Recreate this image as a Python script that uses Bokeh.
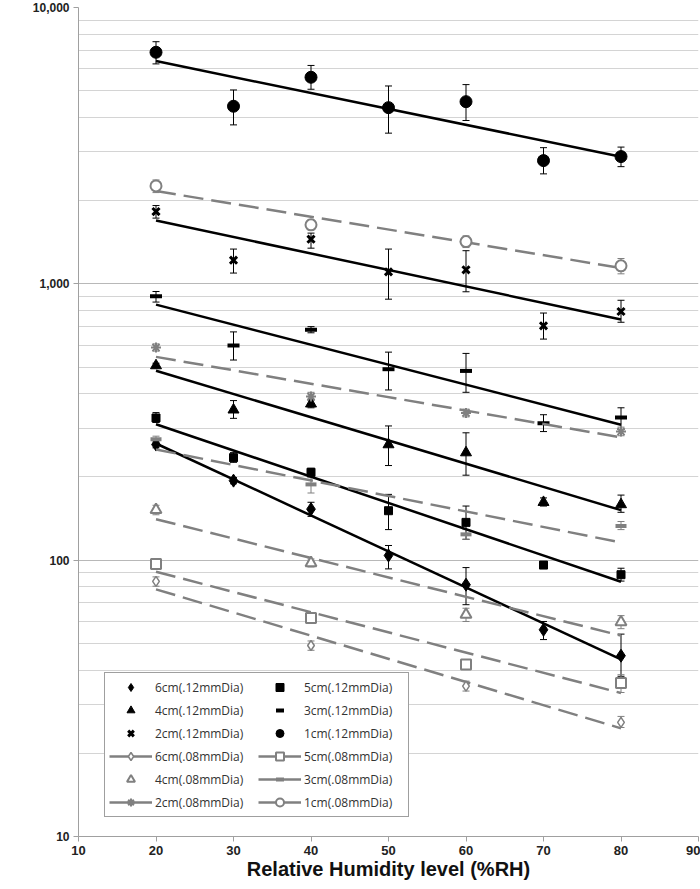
import numpy as np
from bokeh.plotting import figure
from bokeh.models import (ColumnDataSource, Whisker, TeeHead, Legend, LegendItem,
                          Label, FixedTicker, NumeralTickFormatter)
from bokeh.embed import file_html
from bokeh.resources import INLINE

# ---------------- data ----------------
x_12 = [20, 30, 40, 50, 60, 70, 80]
x_08 = [20, 40, 60, 80]
x_ticks = [10, 20, 30, 40, 50, 60, 70, 80, 90]
y_ticks = [10, 100, 1000, 10000]

cm6_12 = [262, 194, 153, 104, 81.5, 56, 45.1]
cm6_12_hi = [270, 199, 162, 113, 94, 60, 54]
cm6_12_lo = [255, 189, 144, 93, 69, 51.6, 38]

cm5_12 = [327, 235, 208, 151, 137, 96, 88.6]
cm5_12_hi = [342, 245, 215, 173, 157, 98, 93.5]
cm5_12_lo = [315, 226, 200, 129, 119, 94, 84]

cm4_12 = [506, 350, 368, 262, 245, 162, 159]
cm4_12_hi = [516, 378, 380, 306, 289, 168, 172]
cm4_12_lo = [497, 326, 356, 220, 203, 157, 149]

cm3_12 = [901, 598, 682, 491, 484, 313, 328]
cm3_12_hi = [938, 670, 700, 566, 560, 336, 356]
cm3_12_lo = [859, 530, 665, 413, 405, 292, 297]

cm2_12 = [1826, 1218, 1451, 1105, 1124, 705, 794]
cm2_12_hi = [1920, 1336, 1526, 1336, 1318, 784, 872]
cm2_12_lo = [1729, 1094, 1346, 880, 936, 631, 726]

cm1_12 = [6887, 4392, 5592, 4341, 4563, 2792, 2887]
cm1_12_hi = [7520, 5030, 6170, 5200, 5260, 3110, 3125]
cm1_12_lo = [6250, 3760, 5060, 3510, 3900, 2500, 2655]

cm6_08 = [83.8, 49.1, 35.0, 25.9]
cm6_08_hi = [87, 51, 36.5, 27.2]
cm6_08_lo = [80.5, 47.2, 33.6, 24.8]

cm5_08 = [96.9, 61.8, 41.9, 35.9]
cm5_08_hi = [100.5, 64, 43.6, 38.5]
cm5_08_lo = [93.4, 59.6, 40.2, 33.2]

cm4_08 = [152, 97.7, 63.5, 59.7]
cm4_08_hi = [158, 101, 67, 63]
cm4_08_lo = [146, 94.5, 60, 56.5]

cm3_08 = [274, 188, 124, 133]
cm3_08_hi = [281, 199, 129, 138]
cm3_08_lo = [267, 175, 119, 129]

cm2_08 = [588, 391, 341, 292]
cm2_08_hi = [606, 405, 352, 303]
cm2_08_lo = [571, 378, 330, 282]

cm1_08 = [2262, 1635, 1422, 1162]
cm1_08_hi = [2377, 1704, 1491, 1235]
cm1_08_lo = [2139, 1568, 1353, 1087]

# ---------------- figure ----------------
BLACK = "#000000"
GRAY = "#808080"
FONT = "Liberation Sans"

p = figure(width=700, height=889, y_axis_type="log",
           x_range=(10, 90), y_range=(10, 10000),
           output_backend="svg", toolbar_location=None,
           min_border_left=78, min_border_right=2,
           min_border_top=7, min_border_bottom=53)
p.outline_line_color = None
p.background_fill_color = "white"

minor = [m * d for d in (10, 100, 1000) for m in range(2, 10)]
p.yaxis.ticker = FixedTicker(ticks=y_ticks, minor_ticks=minor)
p.yaxis.formatter = NumeralTickFormatter(format="0,0")
p.xaxis.ticker = FixedTicker(ticks=x_ticks)

for ax in (p.xaxis[0], p.yaxis[0]):
    ax.axis_line_color = "#a0a0a0"
    ax.major_tick_line_color = "#a0a0a0"
    ax.major_tick_out = 5
    ax.major_tick_in = 0
    ax.minor_tick_line_color = None
    ax.major_label_text_font = FONT
    ax.major_label_text_font_style = "bold"
    ax.major_label_text_color = "#222222"
    ax.major_label_standoff = 4
p.xaxis.major_label_text_font_size = "13px"
p.yaxis.major_label_text_font_size = "12px"

p.xaxis.axis_label = "Relative Humidity level (%RH)"
p.xaxis.axis_label_text_font = FONT
p.xaxis.axis_label_text_font_style = "bold"
p.xaxis.axis_label_text_font_size = "20px"
p.xaxis.axis_label_text_color = "#111111"
p.xaxis.axis_label_standoff = 0

p.xgrid.grid_line_color = None
p.ygrid.grid_line_color = "#b8b8b8"
p.ygrid.minor_grid_line_color = "#d4d4d4"

ylab = Label(x=-60, y=437, x_units="screen", y_units="screen",
             text="Applied Force (log scale, gramsx10\u207b\u2074)",
             angle=np.pi / 2, text_align="center", text_baseline="middle",
             text_font=FONT, text_font_style="bold", text_font_size="18px",
             text_color="#111111")
p.add_layout(ylab)


def add_series(xs, ys, hi, lo, color, marker, size, lw, fill, dashed):
    # error bars
    src = ColumnDataSource(dict(x=xs, y=ys, hi=hi, lo=lo))
    w = Whisker(base="x", upper="hi", lower="lo", source=src,
                dimension="height", line_color=color, line_width=1,
                upper_head=TeeHead(size=7, line_color=color, line_width=1),
                lower_head=TeeHead(size=7, line_color=color, line_width=1))
    p.add_layout(w)
    # exponential trendline (least squares on log10 of the data)
    k, b = np.polyfit(np.array(xs, float), np.log10(np.array(ys, float)), 1)
    tx = np.array([xs[0], xs[-1]], float)
    ty = 10 ** (k * tx + b)
    if dashed:
        p.line(tx, ty, line_color=color, line_width=2.5, line_dash="20 8")
    else:
        p.line(tx, ty, line_color=color, line_width=2.5)
    r = p.scatter("x", "y", source=src, marker=marker, size=size,
                  line_color=color, fill_color=fill, line_width=lw)
    return r


r6_12 = add_series(x_12, cm6_12, cm6_12_hi, cm6_12_lo, BLACK, "diamond", 13, 1, BLACK, False)
r5_12 = add_series(x_12, cm5_12, cm5_12_hi, cm5_12_lo, BLACK, "square", 8, 1, BLACK, False)
r4_12 = add_series(x_12, cm4_12, cm4_12_hi, cm4_12_lo, BLACK, "triangle", 11, 1, BLACK, False)
r3_12 = add_series(x_12, cm3_12, cm3_12_hi, cm3_12_lo, BLACK, "dash", 12, 4, BLACK, False)
r2_12 = add_series(x_12, cm2_12, cm2_12_hi, cm2_12_lo, BLACK, "x", 10, 3, BLACK, False)
r1_12 = add_series(x_12, cm1_12, cm1_12_hi, cm1_12_lo, BLACK, "circle", 12, 1, BLACK, False)

r6_08 = add_series(x_08, cm6_08, cm6_08_hi, cm6_08_lo, GRAY, "diamond", 10, 1.5, "white", True)
r5_08 = add_series(x_08, cm5_08, cm5_08_hi, cm5_08_lo, GRAY, "square", 10, 2, "white", True)
r4_08 = add_series(x_08, cm4_08, cm4_08_hi, cm4_08_lo, GRAY, "triangle", 11, 2, "white", True)
r3_08 = add_series(x_08, cm3_08, cm3_08_hi, cm3_08_lo, GRAY, "dash", 11, 4, GRAY, True)
r2_08 = add_series(x_08, cm2_08, cm2_08_hi, cm2_08_lo, GRAY, "asterisk", 10, 2, GRAY, True)
r1_08 = add_series(x_08, cm1_08, cm1_08_hi, cm1_08_lo, GRAY, "circle", 11, 2, "white", True)


# legend-only line glyphs for the .08 series (single point: draws nothing on the plot)
def leg_line(xs, ys):
    return p.line(x=[xs[0]], y=[ys[0]], line_color=GRAY, line_width=2.5)


L6 = LegendItem(label="6cm(.12mmDia)", renderers=[r6_12])
L5 = LegendItem(label="5cm(.12mmDia)", renderers=[r5_12])
L4 = LegendItem(label="4cm(.12mmDia)", renderers=[r4_12])
L3 = LegendItem(label="3cm(.12mmDia)", renderers=[r3_12])
L2 = LegendItem(label="2cm(.12mmDia)", renderers=[r2_12])
L1 = LegendItem(label="1cm(.12mmDia)", renderers=[r1_12])
G6 = LegendItem(label="6cm(.08mmDia)", renderers=[leg_line(x_08, cm6_08), r6_08])
G5 = LegendItem(label="5cm(.08mmDia)", renderers=[leg_line(x_08, cm5_08), r5_08])
G4 = LegendItem(label="4cm(.08mmDia)", renderers=[r4_08])
G3 = LegendItem(label="3cm(.08mmDia)", renderers=[leg_line(x_08, cm3_08), r3_08])
G2 = LegendItem(label="2cm(.08mmDia)", renderers=[leg_line(x_08, cm2_08), r2_08])
G1 = LegendItem(label="1cm(.08mmDia)", renderers=[leg_line(x_08, cm1_08), r1_08])

# column-major fill: left column first, then right column
items = [L6, L4, L2, G6, G4, G2, L5, L3, L1, G5, G3, G1]
legend = Legend(items=items, ncols=2, location=(26, 19),
                border_line_color="#404040", border_line_width=1,
                background_fill_color="white", background_fill_alpha=1,
                padding=4, spacing=3, margin=0,
                glyph_width=43, glyph_height=20, label_height=20,
                label_width=100, label_standoff=3,
                label_text_font="Open Sans", label_text_font_size="12px",
                label_text_color="#333333")
p.add_layout(legend, "center")

open("out.html", "w").write(file_html(p, INLINE))
